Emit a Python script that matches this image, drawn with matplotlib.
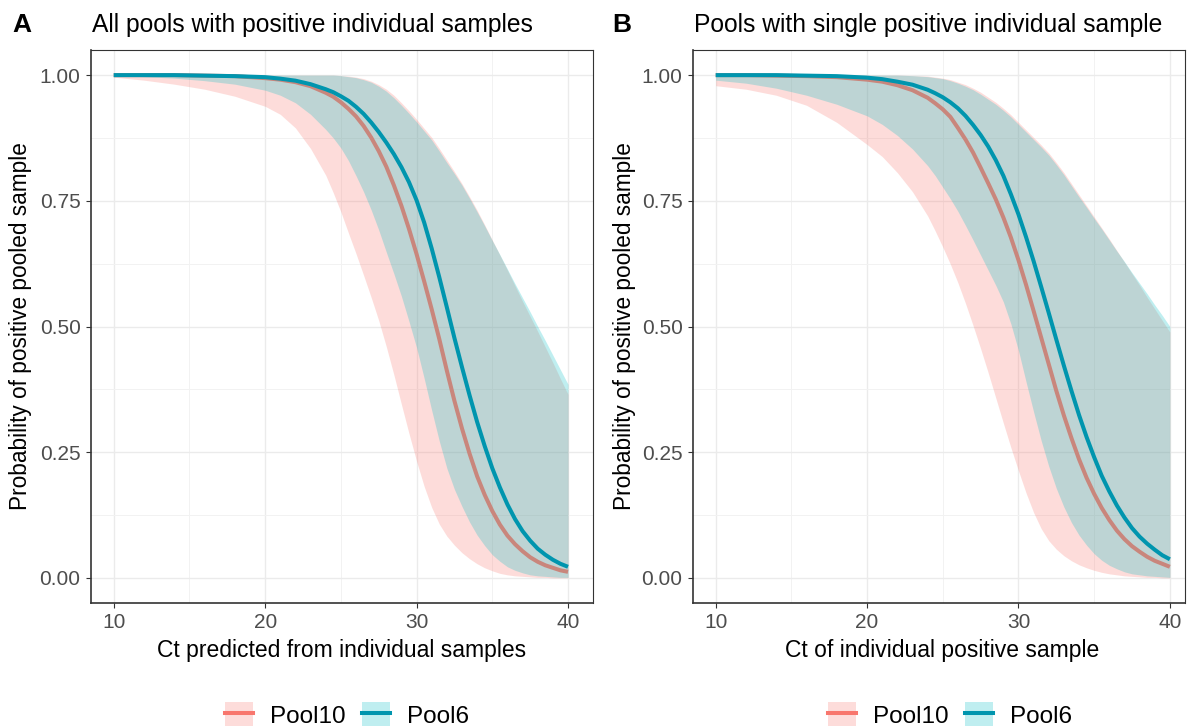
import matplotlib
matplotlib.use("Agg")
import matplotlib.pyplot as plt
from matplotlib.patches import Patch
from matplotlib.lines import Line2D
from matplotlib.legend_handler import HandlerTuple

plt.rcParams['font.family'] = ['Liberation Sans', 'DejaVu Sans']

# Ct grid shared by all curves (finer where the curves bend)
ct = [10, 12, 14, 16, 18, 20, 21, 22, 23, 24, 24.5, 25, 25.5, 26, 26.5, 27, 27.5, 28, 28.5, 29, 29.5,
      30, 30.5, 31, 31.5, 32, 32.5, 33, 33.5, 34, 34.5, 35, 35.5, 36, 36.5, 37, 37.5, 38, 38.5, 39, 39.5, 40]

# Panel A - all pools with positive individual samples
a_pool10 = [1.000, 1.000, 1.000, 0.999, 0.998, 0.994, 0.991, 0.986, 0.978, 0.965, 0.957, 0.946, 0.933, 0.918,
            0.899, 0.876, 0.849, 0.818, 0.781, 0.740, 0.694, 0.644, 0.590, 0.534, 0.475, 0.412, 0.352, 0.297,
            0.247, 0.202, 0.165, 0.133, 0.106, 0.084, 0.067, 0.053, 0.041, 0.032, 0.025, 0.020, 0.015, 0.012]
a_pool10_lo = [0.996, 0.990, 0.982, 0.972, 0.958, 0.938, 0.922, 0.895, 0.854, 0.801, 0.766, 0.728, 0.686, 0.645,
               0.602, 0.558, 0.512, 0.460, 0.404, 0.345, 0.287, 0.232, 0.182, 0.140, 0.107, 0.083, 0.065, 0.050,
               0.038, 0.028, 0.020, 0.014, 0.009, 0.006, 0.004, 0.003, 0.002, 0.001, 0.001, 0.000, 0.000, 0.000]
a_pool10_hi = [1.000, 1.000, 1.000, 1.000, 1.000, 1.000, 1.000, 1.000, 1.000, 1.000, 1.000, 0.999, 0.998, 0.996,
               0.993, 0.988, 0.981, 0.972, 0.960, 0.945, 0.929, 0.912, 0.894, 0.876, 0.854, 0.831, 0.808, 0.784,
               0.758, 0.731, 0.702, 0.672, 0.642, 0.612, 0.581, 0.550, 0.520, 0.490, 0.459, 0.428, 0.396, 0.365]
a_pool6 = [1.000, 1.000, 1.000, 0.999, 0.998, 0.996, 0.993, 0.989, 0.982, 0.972, 0.966, 0.958, 0.949, 0.937,
           0.923, 0.906, 0.887, 0.866, 0.843, 0.817, 0.787, 0.751, 0.707, 0.655, 0.598, 0.538, 0.477, 0.419,
           0.363, 0.310, 0.262, 0.218, 0.180, 0.146, 0.117, 0.093, 0.074, 0.058, 0.046, 0.036, 0.028, 0.022]
a_pool6_lo = [0.999, 0.997, 0.994, 0.989, 0.982, 0.970, 0.960, 0.945, 0.922, 0.892, 0.875, 0.855, 0.830, 0.800,
              0.768, 0.732, 0.692, 0.648, 0.605, 0.560, 0.510, 0.458, 0.397, 0.333, 0.272, 0.218, 0.176, 0.142,
              0.111, 0.085, 0.064, 0.046, 0.033, 0.022, 0.015, 0.010, 0.006, 0.004, 0.003, 0.002, 0.001, 0.001]
a_pool6_hi = [1.000, 1.000, 1.000, 1.000, 1.000, 1.000, 1.000, 1.000, 1.000, 1.000, 1.000, 0.999, 0.997, 0.995,
              0.991, 0.986, 0.978, 0.968, 0.955, 0.940, 0.924, 0.907, 0.889, 0.871, 0.849, 0.826, 0.804, 0.781,
              0.755, 0.728, 0.700, 0.671, 0.643, 0.614, 0.585, 0.557, 0.529, 0.500, 0.472, 0.443, 0.414, 0.385]

# Panel B - pools with single positive individual sample
b_pool10 = [1.000, 1.000, 0.999, 0.998, 0.996, 0.991, 0.987, 0.980, 0.970, 0.955, 0.944, 0.932, 0.917, 0.895,
            0.872, 0.846, 0.816, 0.785, 0.753, 0.717, 0.677, 0.632, 0.583, 0.531, 0.478, 0.425, 0.372, 0.323,
            0.278, 0.236, 0.199, 0.167, 0.139, 0.115, 0.094, 0.077, 0.063, 0.052, 0.042, 0.034, 0.028, 0.022]
b_pool10_lo = [0.979, 0.972, 0.960, 0.940, 0.906, 0.862, 0.838, 0.806, 0.768, 0.720, 0.690, 0.658, 0.624, 0.587,
               0.546, 0.502, 0.456, 0.408, 0.358, 0.308, 0.259, 0.213, 0.169, 0.130, 0.098, 0.074, 0.057, 0.044,
               0.034, 0.026, 0.020, 0.015, 0.011, 0.008, 0.006, 0.004, 0.003, 0.002, 0.001, 0.001, 0.000, 0.000]
b_pool10_hi = [1.000, 1.000, 1.000, 1.000, 1.000, 1.000, 1.000, 1.000, 0.999, 0.998, 0.996, 0.994, 0.991, 0.986,
               0.981, 0.974, 0.966, 0.956, 0.946, 0.934, 0.921, 0.906, 0.891, 0.876, 0.861, 0.845, 0.826, 0.806,
               0.784, 0.762, 0.740, 0.718, 0.696, 0.674, 0.651, 0.628, 0.605, 0.582, 0.558, 0.535, 0.512, 0.489]
b_pool6 = [1.000, 1.000, 1.000, 0.999, 0.998, 0.995, 0.992, 0.987, 0.981, 0.971, 0.964, 0.956, 0.946, 0.934,
           0.919, 0.901, 0.881, 0.858, 0.831, 0.800, 0.763, 0.723, 0.678, 0.630, 0.579, 0.527, 0.474, 0.422,
           0.372, 0.324, 0.280, 0.240, 0.203, 0.172, 0.144, 0.120, 0.099, 0.082, 0.068, 0.056, 0.045, 0.037]
b_pool6_lo = [0.990, 0.984, 0.974, 0.960, 0.942, 0.919, 0.902, 0.880, 0.853, 0.820, 0.800, 0.777, 0.754, 0.729,
              0.701, 0.672, 0.642, 0.612, 0.582, 0.549, 0.505, 0.452, 0.390, 0.330, 0.273, 0.222, 0.178, 0.141,
              0.110, 0.085, 0.065, 0.048, 0.035, 0.025, 0.018, 0.012, 0.008, 0.006, 0.004, 0.003, 0.002, 0.001]
b_pool6_hi = [1.000, 1.000, 1.000, 1.000, 1.000, 1.000, 1.000, 1.000, 0.999, 0.997, 0.995, 0.993, 0.989, 0.984,
              0.978, 0.971, 0.962, 0.952, 0.942, 0.930, 0.917, 0.902, 0.887, 0.872, 0.857, 0.841, 0.822, 0.802,
              0.780, 0.758, 0.737, 0.715, 0.694, 0.672, 0.650, 0.629, 0.607, 0.586, 0.565, 0.543, 0.522, 0.500]

groups = ['Pool10', 'Pool6']
fill_cols = ['#F8766D', '#00BFC4']
line_cols = ['#C9867C', '#0095AE']
legend_line_cols = ['#F8766D', '#0095AE']

W, H = 1188, 726
fig = plt.figure(figsize=(W / 100, H / 100), dpi=100)


def fx(px):
    return px / W


def fy(py):
    return 1 - py / H


def make_panel(left, right, xmax, letter, letter_x, title, xlabel, ylab_x, xlab_cx, leg_cx,
               p10, p10_lo, p10_hi, p6, p6_lo, p6_hi):
    top, bottom = 50, 603
    ax = fig.add_axes([fx(left), fy(bottom), fx(right - left), (bottom - top) / H])
    ax.fill_between(ct, p10_lo, p10_hi, color=fill_cols[0], alpha=0.25, lw=0, zorder=2)
    ax.fill_between(ct, p6_lo, p6_hi, color=fill_cols[1], alpha=0.25, lw=0, zorder=2)
    ax.plot(ct, p10, color=line_cols[0], lw=2.9, zorder=3, solid_capstyle='butt')
    ax.plot(ct, p6, color=line_cols[1], lw=2.9, zorder=4, solid_capstyle='butt')

    ax.set_xlim(8.5, xmax)
    ax.set_ylim(-0.05, 1.05)
    ax.set_xticks([10, 20, 30, 40])
    ax.set_xticks([15, 25, 35], minor=True)
    ax.set_yticks([0, 0.25, 0.5, 0.75, 1.0])
    ax.set_yticklabels(['0.00', '0.25', '0.50', '0.75', '1.00'])
    ax.set_yticks([0.125, 0.375, 0.625, 0.875], minor=True)
    ax.grid(which='major', color='#EBEBEB', lw=1.0, zorder=0)
    ax.grid(which='minor', color='#F2F2F2', lw=0.7, zorder=0)
    ax.set_axisbelow(True)
    ax.tick_params(which='major', length=3.5, width=0.8, color='#333333',
                   labelsize=15, labelcolor='#4D4D4D', pad=4)
    ax.tick_params(which='minor', length=0)
    for s in ax.spines.values():
        s.set_color('#333333')
        s.set_linewidth(0.8)
    ax.spines['left'].set_linewidth(1.2)
    ax.spines['bottom'].set_linewidth(1.2)

    ax.set_xlabel(xlabel, fontsize=16.5, color='black')
    ax.xaxis.set_label_coords((xlab_cx - left) / (right - left), -(651 - bottom) / (bottom - top),
                              transform=ax.transAxes)
    ax.set_ylabel('Probability of positive pooled sample', fontsize=16.3, color='black')
    ax.yaxis.set_label_coords((ylab_x - left) / (right - left), 0.5, transform=ax.transAxes)
    ax.xaxis.label.set_va('center')
    ax.yaxis.label.set_va('center')

    fig.text(fx(letter_x), fy(25), letter, fontsize=19, fontweight='bold', va='center', ha='left')
    fig.text(fx(left + 1), fy(25), title, fontsize=17.7, va='center', ha='left')

    handles = [(Patch(facecolor=fill_cols[i], alpha=0.25, lw=0),
                Line2D([0], [0], color=legend_line_cols[i], lw=2.9)) for i in range(2)]
    fig.legend(handles, groups, loc='center', bbox_to_anchor=(fx(leg_cx), fy(715)),
               ncol=2, frameon=False, fontsize=17.5, handlelength=1.15, handleheight=1.25,
               handletextpad=0.7, columnspacing=0.66, borderpad=0,
               handler_map={tuple: HandlerTuple(ndivide=1, pad=0)})
    return ax


make_panel(91, 593, 41.65, 'A', 12, 'All pools with positive individual samples',
           'Ct predicted from individual samples', 21, 342, 347,
           a_pool10, a_pool10_lo, a_pool10_hi, a_pool6, a_pool6_lo, a_pool6_hi)
make_panel(693, 1185, 41.0, 'B', 612, 'Pools with single positive individual sample',
           'Ct of individual positive sample', 624, 942, 950,
           b_pool10, b_pool10_lo, b_pool10_hi, b_pool6, b_pool6_lo, b_pool6_hi)

fig.savefig('out.png', dpi=100, facecolor='white')
